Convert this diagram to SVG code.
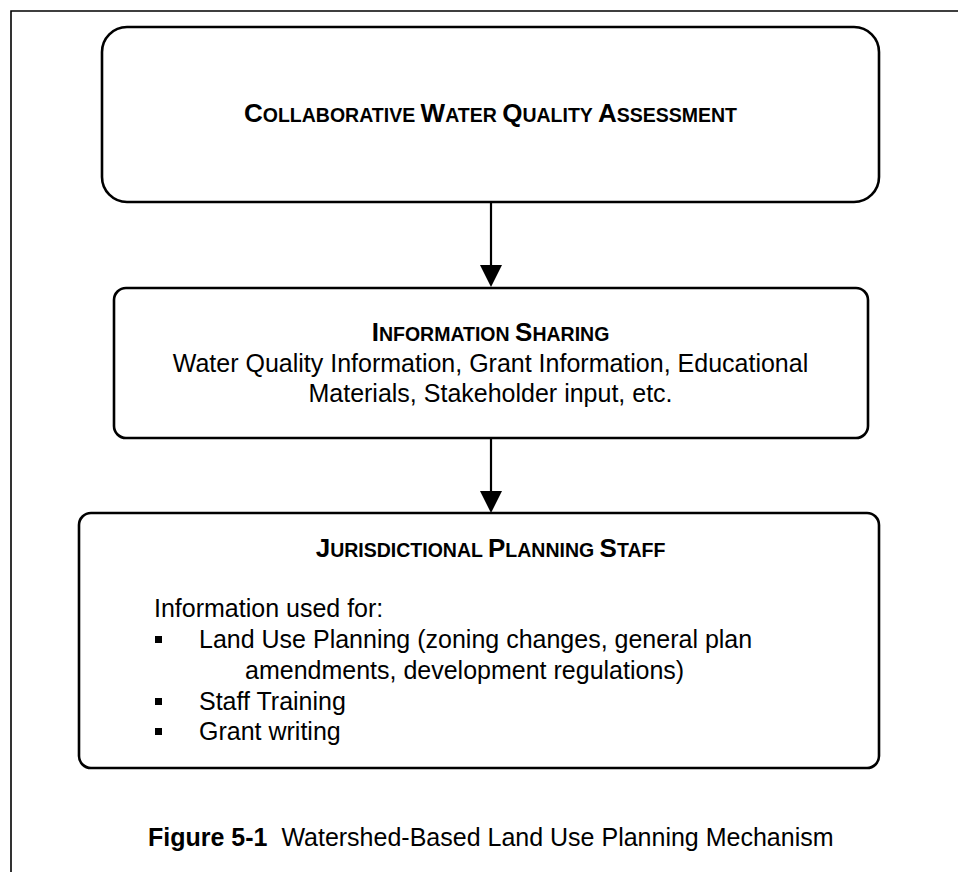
<svg xmlns="http://www.w3.org/2000/svg" width="958" height="872" viewBox="0 0 958 872">
<defs>
<style>
.box{fill:#fff;stroke:#000;stroke-width:2.6}
.t{font-family:"Liberation Sans",Arial,sans-serif;font-size:25px;fill:#000}
.h{font-family:"Liberation Sans",Arial,sans-serif;font-weight:bold;font-size:19.5px;fill:#000}
.big{font-size:26px}
.conn{stroke:#000;stroke-width:2.2;fill:none}
</style>
</defs>
<rect width="958" height="872" fill="#fff"/>
<path d="M11,872 V11 H958" fill="none" stroke="#000" stroke-width="1.6"/>
<g id="connectors">
<line class="conn" x1="491" y1="202" x2="491" y2="268"/>
<path d="M480,265 L502,265 L491,287 Z" fill="#000"/>
<line class="conn" x1="491" y1="438" x2="491" y2="494"/>
<path d="M480,491 L502,491 L491,513 Z" fill="#000"/>
</g>
<g id="node-assessment">
<rect class="box" x="102" y="27" width="777" height="175" rx="25" ry="25"/>
<text class="h" x="490.5" y="122" text-anchor="middle"><tspan class="big">C</tspan>OLLABORATIVE <tspan class="big">W</tspan>ATER <tspan class="big">Q</tspan>UALITY <tspan class="big">A</tspan>SSESSMENT</text>
</g>
<g id="node-sharing">
<rect class="box" x="114" y="288" width="754" height="150" rx="12" ry="12"/>
<text class="h" x="490.5" y="341" text-anchor="middle"><tspan class="big">I</tspan>NFORMATION <tspan class="big">S</tspan>HARING</text>
<text class="t" x="490.5" y="372" text-anchor="middle">Water Quality Information, Grant Information, Educational</text>
<text class="t" x="490.5" y="402" text-anchor="middle">Materials, Stakeholder input, etc.</text>
</g>
<g id="node-staff">
<rect class="box" x="79" y="513" width="800" height="255" rx="12" ry="12"/>
<text class="h" x="490.5" y="557" text-anchor="middle"><tspan class="big">J</tspan>URISDICTIONAL <tspan class="big">P</tspan>LANNING <tspan class="big">S</tspan>TAFF</text>
<text class="t" x="154" y="617">Information used for:</text>
<rect x="155" y="636" width="7" height="7" fill="#000"/>
<text class="t" x="199" y="648">Land Use Planning (zoning changes, general plan</text>
<text class="t" x="245" y="679">amendments, development regulations)</text>
<rect x="155" y="698" width="7" height="7" fill="#000"/>
<text class="t" x="199" y="710">Staff Training</text>
<rect x="155" y="728" width="7" height="7" fill="#000"/>
<text class="t" x="199" y="740">Grant writing</text>
</g>
<text class="t" x="148" y="846" style="white-space:pre"><tspan font-weight="bold">Figure 5-1</tspan>  Watershed-Based Land Use Planning Mechanism</text>
</svg>
